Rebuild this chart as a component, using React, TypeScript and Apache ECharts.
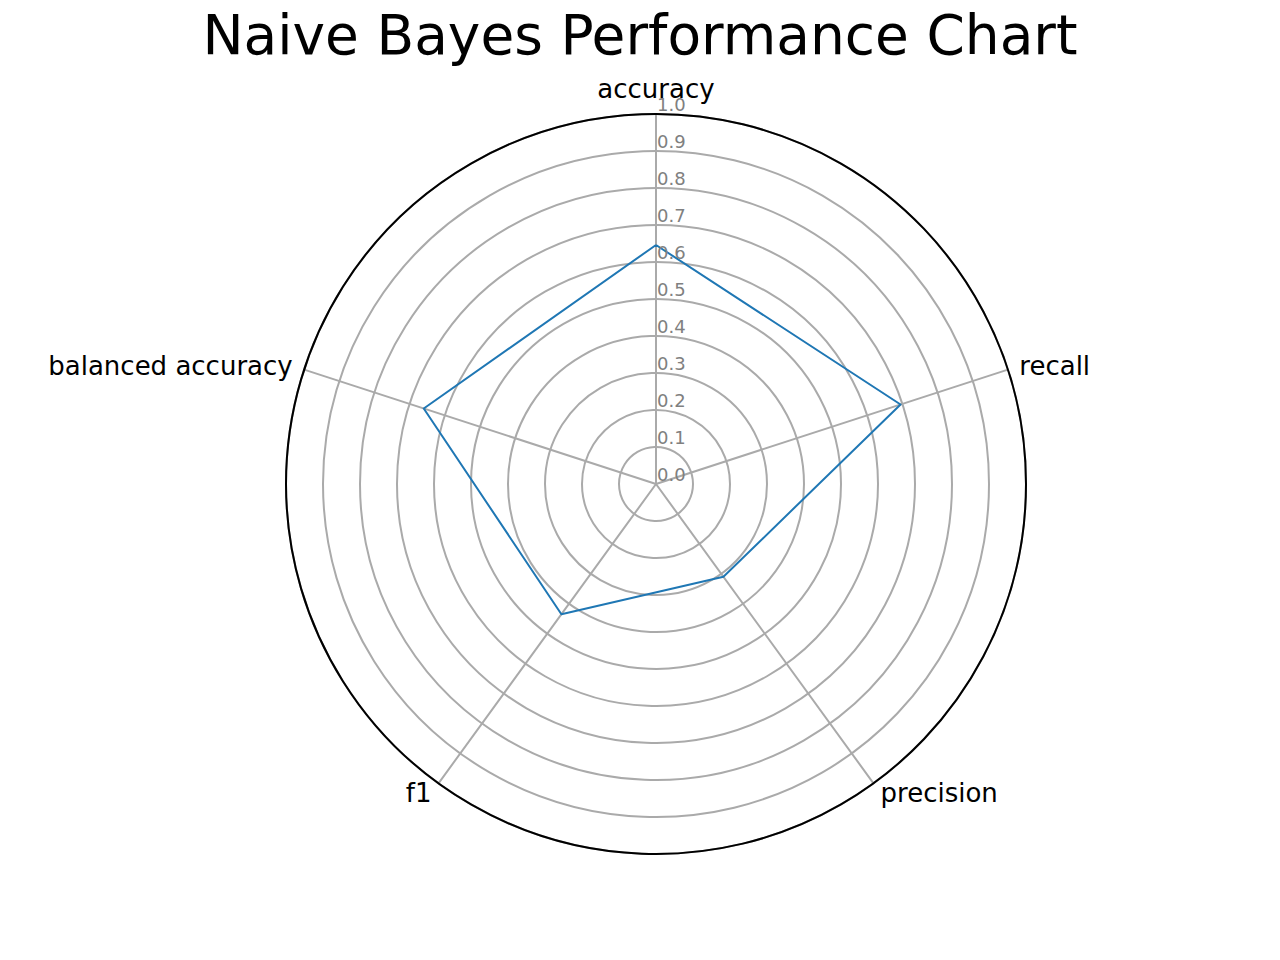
import React, { useEffect, useRef } from "react";
import * as echarts from "echarts";

// ECharts radar runs counter-clockwise, so the order is reversed after the first axis
const categories = ["accuracy", "balanced accuracy", "f1", "precision", "recall"];
const values = [0.646, 0.66, 0.435, 0.31, 0.695];
const ticks = [0.0, 0.1, 0.2, 0.3, 0.4, 0.5, 0.6, 0.7, 0.8, 0.9, 1.0];

export default function App() {
  const ref = useRef<HTMLDivElement>(null);
  useEffect(() => {
    const chart = echarts.init(ref.current!, undefined, { renderer: "svg" });
    const cx = 648, cy = 476, R = 370;
    chart.setOption({
      animation: false,
      title: {
        text: "Naive Bayes Performance Chart",
        left: "center",
        top: -6,
        textStyle: { fontSize: 55, fontWeight: "normal", color: "#000", fontFamily: "DejaVu Sans" },
      },
      radar: {
        center: [cx, cy],
        radius: R,
        shape: "circle",
        splitNumber: 10,
        startAngle: 90,
        indicator: categories.map((c) => ({ name: c, min: 0, max: 1 })),
        axisName: { color: "#000", fontSize: 26, fontFamily: "DejaVu Sans" },
        nameGap: 12,
        splitLine: { lineStyle: { color: "#aaaaaa", width: 2 } },
        splitArea: { show: false },
        axisLine: { lineStyle: { color: "#aaaaaa", width: 2 } },
        axisTick: { show: false },
        axisLabel: { show: false },
      },
      series: [
        {
          type: "radar",
          symbol: "none",
          lineStyle: { color: "#1f77b4", width: 2 },
          data: [{ value: values }],
        },
      ],
      graphic: [
        {
          type: "circle",
          shape: { cx, cy, r: R },
          style: { fill: "none", stroke: "#000", lineWidth: 2 },
          z: 10,
        },
        ...ticks.map((v) => ({
          type: "text",
          x: cx + 1,
          y: cy - (v * R + 10),
          style: {
            text: v.toFixed(1),
            fill: "#808080",
            fontSize: 18,
            fontFamily: "DejaVu Sans",
            verticalAlign: "middle",
          },
          z: 11,
        })),
      ],
    });
    return () => chart.dispose();
  }, []);
  return <div ref={ref} style={{ width: 1264, height: 944 }} />;
}
